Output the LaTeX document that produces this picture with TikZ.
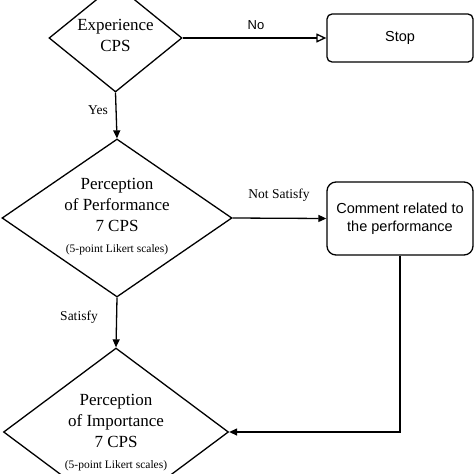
\documentclass[tikz,border=0pt]{standalone}
\usepackage{fontspec}
\setmainfont{Liberation Serif}
\newfontfamily\arialf{Liberation Sans}
\usetikzlibrary{shapes.geometric,arrows.meta}
\begin{document}
\begin{tikzpicture}[x=1pt,y=-1pt,
  line width=1.3pt,
  dia/.style={draw, diamond, inner sep=0pt, line width=1.3pt},
  box/.style={draw, rectangle, inner sep=0pt, font=\arialf\fontsize{14.5}{17.5}\selectfont, align=center, line width=1.3pt, minimum width=146pt},
  dtext/.style={align=center, font=\fontsize{17}{21}\selectfont, inner sep=0pt},
  small/.style={},
  lab/.style={font=\fontsize{13.5}{16}\selectfont, inner sep=0pt},
  arr/.style={-{Triangle[length=8pt,width=7pt]}},
  openarr/.style={-{Triangle[open,length=10pt,width=9pt]}},
  ]
\useasboundingbox (0,0) rectangle (474,474);
\begin{scope}
\clip (0,0) rectangle (474,474);
% diamonds
\node[dia, minimum width=133pt, minimum height=108pt] (d1) at (115.5,38) {};
\node[dia, minimum width=230pt, minimum height=158pt] (d2) at (117,218) {};
\node[dia, minimum width=225pt, minimum height=168pt] (d3) at (116,432) {};
% boxes
\node[box, rounded corners=5pt, minimum height=48pt] (stop) at (400,38) {Stop};
\node[box, rounded corners=9pt, minimum height=73pt] (comment) at (400,218.5) {Comment related to\\the performance};
% diamond texts
\node[dtext] (t1) at (115.5,35) {Experience\\CPS};
\node[dtext] (t2) at (117,217) {Perception\\of Performance\\7 CPS\\{\fontsize{11.5}{13}\selectfont (5-point Likert scales)}};
\node[dtext] (t3) at (116,433) {Perception\\of Importance\\7 CPS\\{\fontsize{11.5}{13}\selectfont (5-point Likert scales)}};
% connectors
\draw[openarr] (d1.east) -- (stop.west);
\draw[arr] (d1.south) -- (d2.north);
\draw[arr] (d2.east) -- (comment.west);
\draw[arr] (d2.south) -- (d3.north);
\draw[arr] (comment.south) |- (d3.east);
% labels
\node[lab, font=\arialf\fontsize{13}{16}\selectfont] (lno) at (256,25) {No};
\node[lab] (lyes) at (98,110) {Yes};
\node[lab] (lns) at (279,195) {Not Satisfy};
\node[lab] (lsat) at (79,317) {Satisfy};
\end{scope}
\end{tikzpicture}
\end{document}
